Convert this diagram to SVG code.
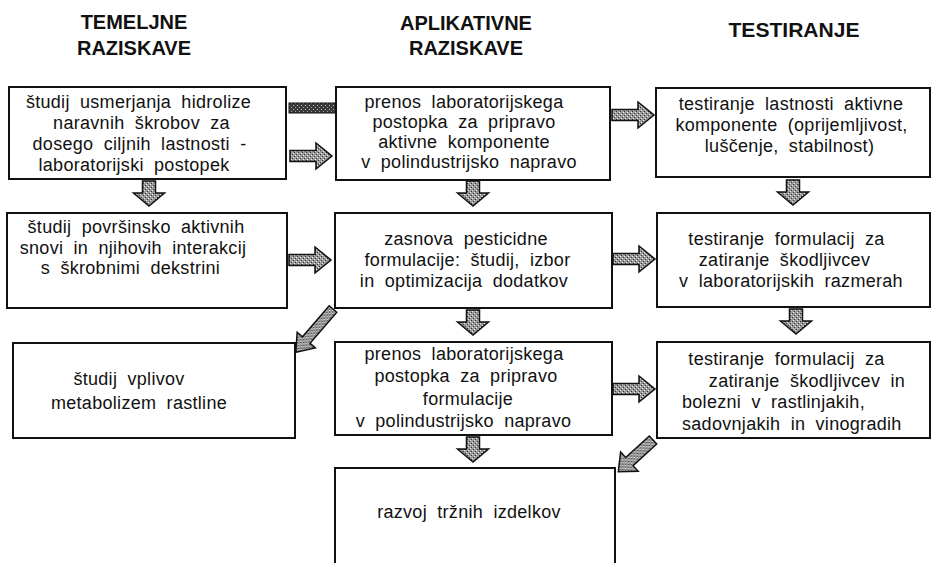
<svg xmlns="http://www.w3.org/2000/svg" xmlns:xlink="http://www.w3.org/1999/xlink" width="931" height="563" viewBox="0 0 931 563">
<style>
  .bg { fill: #ffffff; }
  .box { fill: #ffffff; stroke: #111; stroke-width: 2; }
  .t { font-family: "Liberation Sans", Arial, sans-serif; font-size: 18px; letter-spacing: 0.3px; word-spacing: 5px; fill: #111; text-anchor: middle; }
  .ts { text-anchor: start; }
  .h { font-family: "Liberation Sans", Arial, sans-serif; font-size: 20px; font-weight: bold; fill: #111; text-anchor: middle; }
  .arrow { fill: url(#stip); stroke: #111; stroke-width: 1.5; stroke-linejoin: miter; }
  .bar { fill: url(#dark); stroke: #111; stroke-width: 1; }
</style>
<defs>
  <pattern id="stip" width="4" height="4" patternUnits="userSpaceOnUse">
    <rect width="4" height="4" fill="#9a9a9a"/>
    <rect x="0" y="0" width="1" height="1" fill="#333"/>
    <rect x="2" y="2" width="1" height="1" fill="#333"/>
    <rect x="1" y="3" width="1" height="1" fill="#e6e6e6"/>
    <rect x="3" y="1" width="1" height="1" fill="#e6e6e6"/>
  </pattern>
  <pattern id="dark" width="4" height="4" patternUnits="userSpaceOnUse">
    <rect width="4" height="4" fill="#3a3a3a"/>
    <rect x="1" y="1" width="1" height="1" fill="#bbb"/>
    <rect x="3" y="3" width="1" height="1" fill="#999"/>
  </pattern>
  <path id="harr" d="M0,-5.5 H26 V-13 L42,0 L26,13 V5.5 H0 Z"/>
  <path id="varr" d="M-6.5,0 V12 H-15.5 L0,25 L15.5,12 H6.5 V0 Z"/>
  <path id="diag1" d="M0,-5 H41 V-12 L57,0 L41,12 V5 H0 Z"/>
  <path id="diag2" d="M0,-5.5 H32 V-13 L47,0 L32,13 V5.5 H0 Z"/>
</defs>
<rect class="bg" x="0" y="0" width="931" height="563"/>

<g id="headers">
  <text class="h" x="134" y="29">TEMELJNE</text>
  <text class="h" x="134" y="55">RAZISKAVE</text>
  <text class="h" x="466" y="30">APLIKATIVNE</text>
  <text class="h" x="466" y="55">RAZISKAVE</text>
  <text class="h" x="794" y="37" textLength="131" lengthAdjust="spacingAndGlyphs">TESTIRANJE</text>
</g>

<g id="connectors">
  <rect class="bar" x="289" y="103" width="47" height="10"/>
  <use href="#harr" class="arrow" transform="translate(290,156)"/>
  <use href="#harr" class="arrow" transform="translate(612,115)"/>
  <use href="#harr" class="arrow" transform="translate(289,260)"/>
  <use href="#harr" class="arrow" transform="translate(613,259)"/>
  <use href="#harr" class="arrow" transform="translate(613,389)"/>
  <use href="#varr" class="arrow" transform="translate(149,181)"/>
  <use href="#varr" class="arrow" transform="translate(473,181)"/>
  <use href="#varr" class="arrow" transform="translate(793,180)"/>
  <use href="#varr" class="arrow" transform="translate(473,310)"/>
  <use href="#varr" class="arrow" transform="translate(796,309)"/>
  <use href="#varr" class="arrow" transform="translate(473,437)"/>
  <use href="#diag1" class="arrow" transform="translate(333,309) rotate(130.7)"/>
  <use href="#diag2" class="arrow" transform="translate(653,440) rotate(137.6)"/>
</g>

<g id="node-L1">
  <rect class="box" x="9" y="87" width="277" height="92"/>
  <text class="t" x="138.5" y="108">študij usmerjanja hidrolize</text>
  <text class="t" x="141.5" y="129">naravnih škrobov za</text>
  <text class="t" x="139.5" y="150">dosego ciljnih lastnosti -</text>
  <text class="t" x="134" y="171">laboratorijski postopek</text>
</g>

<g id="node-M1">
  <rect class="box" x="336" y="87" width="274" height="93"/>
  <text class="t" x="464" y="108">prenos laboratorijskega</text>
  <text class="t" x="464" y="128">postopka za pripravo</text>
  <text class="t" x="464" y="148">aktivne komponente</text>
  <text class="t" x="469" y="168">v polindustrijsko napravo</text>
</g>

<g id="node-R1">
  <rect class="box" x="656" y="88" width="274" height="89"/>
  <text class="t" x="791" y="110">testiranje lastnosti aktivne</text>
  <text class="t" x="791.5" y="131">komponente (oprijemljivost,</text>
  <text class="t" x="789.5" y="152">luščenje, stabilnost)</text>
</g>

<g id="node-L2">
  <rect class="box" x="7" y="213" width="280" height="95"/>
  <text class="t" x="136" y="233">študij površinsko aktivnih</text>
  <text class="t" x="133" y="254">snovi in njihovih interakcij</text>
  <text class="t" x="130.5" y="274">s škrobnimi dekstrini</text>
</g>

<g id="node-M2">
  <rect class="box" x="335" y="213" width="277" height="95"/>
  <text class="t" x="466" y="245">zasnova pesticidne</text>
  <text class="t" x="467.5" y="266">formulacije: študij, izbor</text>
  <text class="t" x="464" y="287">in optimizacija dodatkov</text>
</g>

<g id="node-R2">
  <rect class="box" x="657" y="213" width="273" height="94"/>
  <text class="t" x="786.5" y="245">testiranje formulacij za</text>
  <text class="t" x="784.5" y="266">zatiranje škodljivcev</text>
  <text class="t" x="791" y="287">v laboratorijskih razmerah</text>
</g>

<g id="node-L3">
  <rect class="box" x="13" y="343" width="282" height="95"/>
  <text class="t" x="129" y="385">študij vplivov</text>
  <text class="t" x="139" y="409">metabolizem rastline</text>
</g>

<g id="node-M3">
  <rect class="box" x="335" y="342" width="277" height="93"/>
  <text class="t" x="464" y="360">prenos laboratorijskega</text>
  <text class="t" x="466" y="382">postopka za pripravo</text>
  <text class="t" x="468" y="405">formulacije</text>
  <text class="t" x="463.5" y="427">v polindustrijsko napravo</text>
</g>

<g id="node-R3">
  <rect class="box" x="657" y="342" width="273" height="96"/>
  <text class="t" x="786.5" y="365">testiranje formulacij za</text>
  <text class="t" x="807" y="387">zatiranje škodljivcev in</text>
  <text class="t ts" x="682" y="408">bolezni v rastlinjakih,</text>
  <text class="t ts" x="682" y="430">sadovnjakih in vinogradih</text>
</g>

<g id="node-M4">
  <rect class="box" x="335" y="468" width="280" height="110"/>
  <text class="t" x="469" y="518">razvoj tržnih izdelkov</text>
</g>
</svg>
